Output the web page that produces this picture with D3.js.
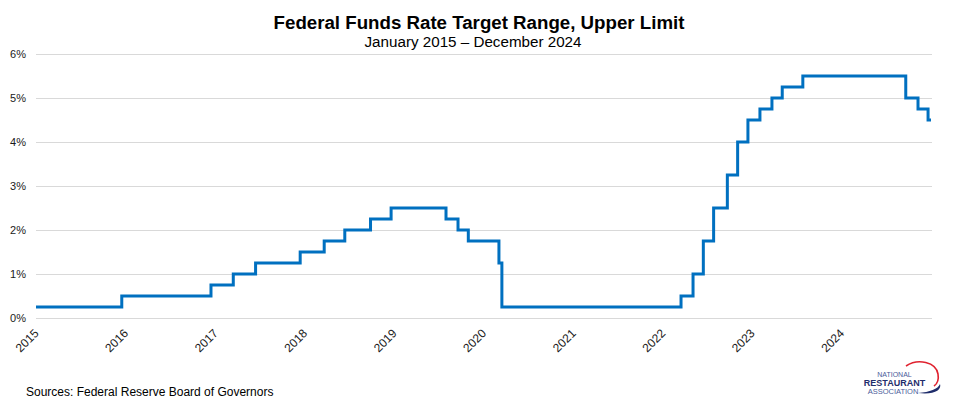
<!DOCTYPE html>
<html>
<head>
<meta charset="utf-8">
<script src="https://cdn.jsdelivr.net/npm/d3@7"></script>
<style>
  html, body { margin: 0; padding: 0; background: #fff; }
  svg { display: block; font-family: "Liberation Sans", Arial, sans-serif; }
</style>
</head>
<body>
<svg id="chart" width="957" height="407"></svg>
<script>
// Dates on which the upper limit of the target range changed, and the new value (%)
const changeDates = [
  "2015-01-01", "2015-12-17", "2016-12-15", "2017-03-16", "2017-06-15",
  "2017-12-14", "2018-03-22", "2018-06-14", "2018-09-27", "2018-12-20",
  "2019-08-01", "2019-09-19", "2019-10-31", "2020-03-04", "2020-03-16",
  "2022-03-17", "2022-05-05", "2022-06-16", "2022-07-28", "2022-09-22",
  "2022-11-03", "2022-12-15", "2023-02-02", "2023-03-23", "2023-05-04",
  "2023-07-27", "2024-09-19", "2024-11-08", "2024-12-19", "2024-12-31"
];
const upperRates = [
  0.25, 0.50, 0.75, 1.00, 1.25,
  1.50, 1.75, 2.00, 2.25, 2.50,
  2.25, 2.00, 1.75, 1.25, 0.25,
  0.50, 1.00, 1.75, 2.50, 3.25,
  4.00, 4.50, 4.75, 5.00, 5.25,
  5.50, 5.00, 4.75, 4.50, 4.50
];
const yearLabels = ["2015","2016","2017","2018","2019","2020","2021","2022","2023","2024"];
const yTicks = [0, 1, 2, 3, 4, 5, 6];

const parse = d3.timeParse("%Y-%m-%d");
const data = changeDates.map((d, i) => ({ date: parse(d), value: upperRates[i] }));

const svg = d3.select("#chart");
const plotLeft = 36, plotRight = 931, plotTop = 54, plotBottom = 318;

const x = d3.scaleTime()
  .domain([parse("2015-01-01"), parse("2024-12-31")])
  .range([plotLeft, plotRight]);
const y = d3.scaleLinear().domain([0, 6]).range([plotBottom, plotTop]);

// Gridlines
svg.append("g")
  .selectAll("line")
  .data(yTicks)
  .join("line")
  .attr("x1", plotLeft).attr("x2", plotRight + 1)
  .attr("y1", d => y(d)).attr("y2", d => y(d))
  .attr("stroke", "#d9d9d9").attr("stroke-width", 1)
  .attr("shape-rendering", "crispEdges");

// Y axis labels
const yAxis = d3.axisLeft(y).tickValues(yTicks).tickFormat(d => d + "%").tickSize(0).tickPadding(10);
const yg = svg.append("g").attr("transform", `translate(${plotLeft},0)`).call(yAxis);
yg.select(".domain").remove();
yg.selectAll("text").attr("font-size", 11).attr("fill", "#1a1a1a")
  .attr("font-family", "Liberation Sans, Arial, sans-serif");

// X axis labels (rotated)
const xTickDates = yearLabels.map(yy => parse(yy + "-01-01"));
const xAxis = d3.axisBottom(x).tickValues(xTickDates).tickFormat((d, i) => yearLabels[i]).tickSize(0);
const xg = svg.append("g").attr("transform", `translate(0,${plotBottom})`).call(xAxis);
xg.select(".domain").remove();
xg.selectAll("text")
  .attr("font-size", 12).attr("fill", "#1a1a1a")
  .attr("font-family", "Liberation Sans, Arial, sans-serif")
  .attr("text-anchor", "end")
  .attr("y", 0).attr("dy", 0)
  .attr("transform", "translate(3,16) rotate(-45)");

// Step line
const line = d3.line()
  .x(d => x(d.date))
  .y(d => y(d.value))
  .curve(d3.curveStepAfter);
svg.append("path")
  .datum(data)
  .attr("d", line)
  .attr("fill", "none")
  .attr("stroke", "#0070c0")
  .attr("stroke-width", 3)
  .attr("stroke-linejoin", "miter");

// Titles
svg.append("text").attr("x", 479).attr("y", 29).attr("text-anchor", "middle")
  .attr("font-size", 18.7).attr("font-weight", "bold").attr("fill", "#000")
  .text("Federal Funds Rate Target Range, Upper Limit");
svg.append("text").attr("x", 473).attr("y", 47).attr("text-anchor", "middle")
  .attr("font-size", 15.2).attr("fill", "#000")
  .text("January 2015 \u2013 December 2024");

// Source
svg.append("text").attr("x", 26).attr("y", 396)
  .attr("font-size", 12).attr("fill", "#000")
  .text("Sources: Federal Reserve Board of Governors");

// Logo
const logo = svg.append("g");
logo.append("path")
  .attr("d", "M906,366 C918,358 936,362 938,374 C939,380 937,384 934,386")
  .attr("fill", "none").attr("stroke", "#e0222f").attr("stroke-width", 1.6);
logo.append("path")
  .attr("d", "M918,393 C930,392 938,389 940,384 C942,390 934,395 918,393 Z")
  .attr("fill", "#1f2d6b");
logo.append("text").attr("x", 894.5).attr("y", 377).attr("text-anchor", "middle")
  .attr("font-size", 7).attr("fill", "#4a5c9a").text("NATIONAL");
logo.append("text").attr("x", 894.5).attr("y", 385.5).attr("text-anchor", "middle")
  .attr("font-size", 9).attr("font-weight", "bold").attr("fill", "#1f2d6b").text("RESTAURANT");
logo.append("text").attr("x", 893).attr("y", 393.5).attr("text-anchor", "middle")
  .attr("font-size", 7.5).attr("fill", "#4a5c9a").text("ASSOCIATION");
</script>
</body>
</html>
